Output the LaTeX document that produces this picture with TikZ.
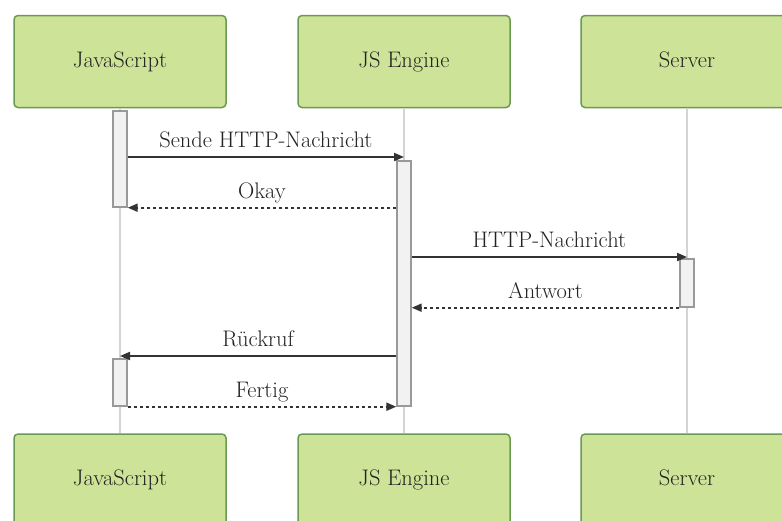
\documentclass[tikz,border=0pt]{standalone}
\usepackage{fontspec}
\usetikzlibrary{arrows.meta}

\definecolor{actorfill}{HTML}{CDE498}
\definecolor{actorline}{HTML}{6A9A52}
\definecolor{lifecol}{HTML}{D4D4D4}
\definecolor{barfill}{HTML}{F2F2F2}
\definecolor{barline}{HTML}{999999}
\definecolor{sigcol}{HTML}{333333}
\definecolor{txtcol}{HTML}{222222}

\tikzset{
  actor/.style={rectangle, rounded corners=4pt, draw=actorline, fill=actorfill,
    line width=1.5pt, minimum width=212pt, minimum height=92pt, inner sep=0pt,
    text height=16pt, text depth=5pt,
    text=txtcol, font=\fontsize{22.5}{26}\selectfont},
  lifeline/.style={draw=lifecol, line width=1.8pt},
  actbar/.style={rectangle, draw=barline, fill=barfill, line width=1.4pt,
    minimum width=14pt, inner sep=0pt},
  call/.style={draw=sigcol, line width=1.9pt,
    -{Triangle[length=10pt,width=8pt]}},
  reply/.style={call, dash pattern=on 3pt off 3pt},
  msg/.style={anchor=base, yshift=9.5pt, text=txtcol, inner sep=0pt,
    font=\fontsize{22.5}{26}\selectfont}
}

\begin{document}
\begin{tikzpicture}[x=1pt, y=-1pt]
  \clip (0,0) rectangle (782,520);
  \fill[white] (0,0) rectangle (782,520);

  % participants, top and bottom
  \node[actor] (jsT) at (120,61.5) {JavaScript};
  \node[actor] (enT) at (404,61.5) {JS Engine};
  \node[actor] (svT) at (687,61.5) {Server};
  \node[actor] (jsB) at (120,480) {JavaScript};
  \node[actor] (enB) at (404,480) {JS Engine};
  \node[actor] (svB) at (687,480) {Server};

  % lifelines
  \draw[lifeline] (jsT.south) -- (jsB.north);
  \draw[lifeline] (enT.south) -- (enB.north);
  \draw[lifeline] (svT.south) -- (svB.north);

  % activations
  \node[actbar, minimum height=96pt]  (b1) at (120,159) {};
  \node[actbar, minimum height=245pt] (b2) at (404,283.5) {};
  \node[actbar, minimum height=48pt]  (b3) at (687,283) {};
  \node[actbar, minimum height=47pt]  (b4) at (120,382.5) {};

  % message end points on the lifelines
  \coordinate (en1) at (404,157);
  \coordinate (sv1) at (687,257);
  \coordinate (js1) at (120,356);

  % messages
  \draw[call] (b1.east |- en1) -- node[msg] {Sende HTTP-Nachricht} (en1);
  \draw[reply] (b2.west |- b1.south east) -- node[msg] {Okay} (b1.south east);
  \draw[call] (b2.east |- sv1) -- node[msg] {HTTP-Nachricht} (sv1);
  \draw[reply] (b3.south west) -- node[msg] {Antwort} (b2.east |- b3.south west);
  \draw[call] (b2.west |- js1) -- node[msg] {Rückruf} (js1);
  \draw[reply] (b4.south east) -- node[msg] {Fertig} (b2.west |- b4.south east);
\end{tikzpicture}
\end{document}
